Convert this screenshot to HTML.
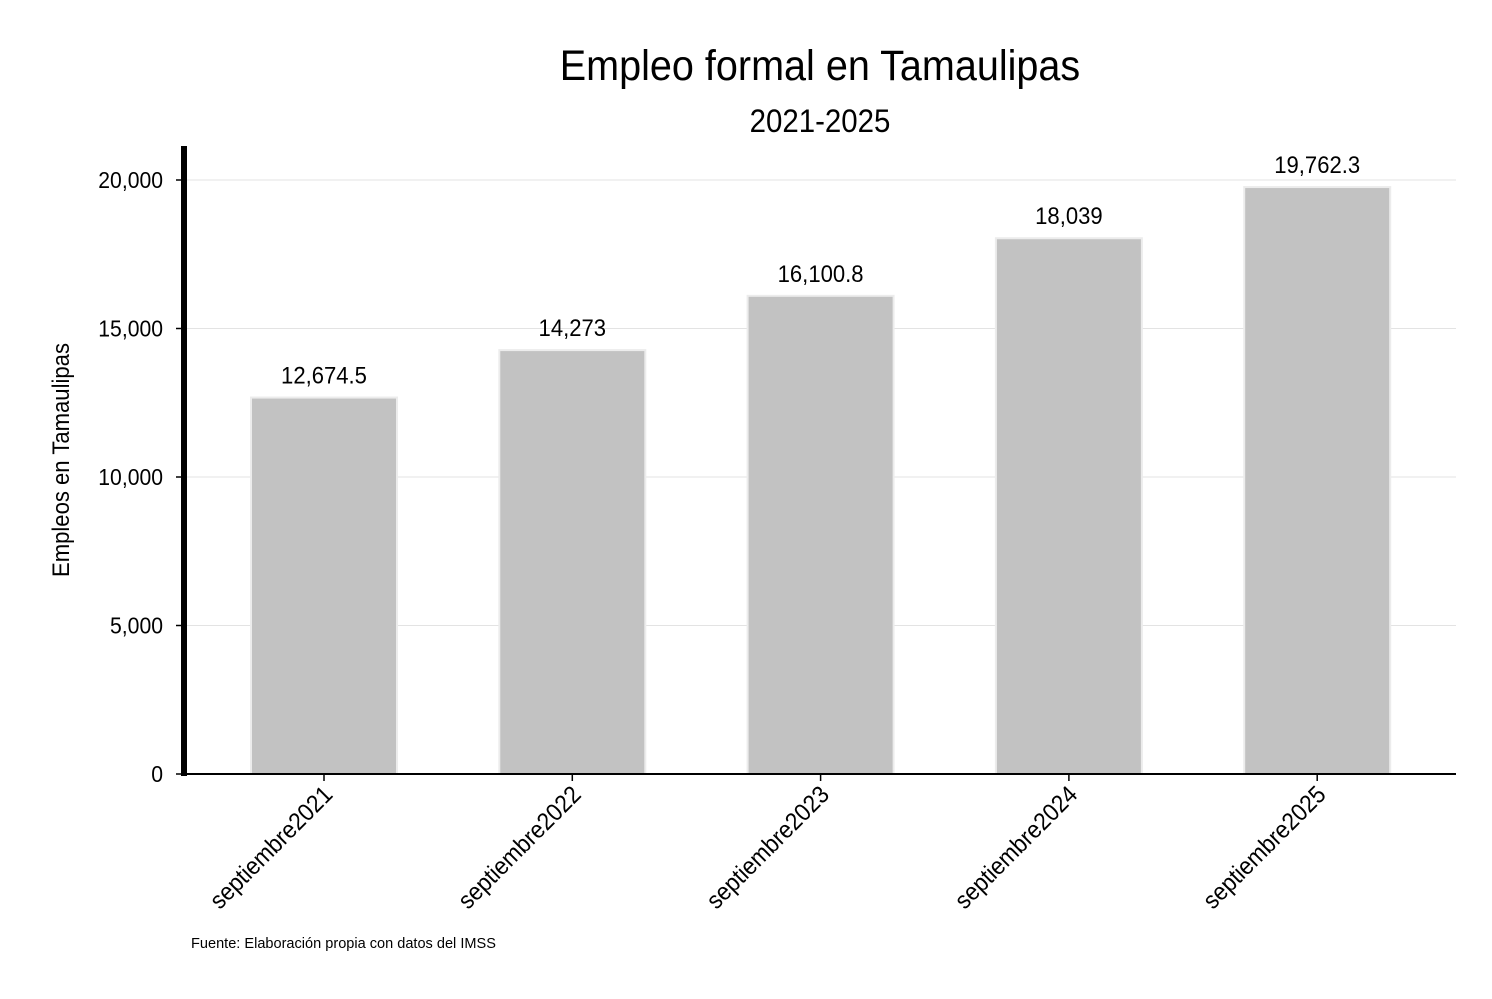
<!DOCTYPE html>
<html><head><meta charset="utf-8"><style>
body{margin:0;background:#fff;}
svg text{font-family:"Liberation Sans Narrow","Liberation Sans",sans-serif;fill:#000;}
</style></head><body>
<svg width="1492" height="994" viewBox="0 0 1492 994">
<text x="820" y="80" font-size="43" text-anchor="middle">Empleo formal en Tamaulipas</text>
<text x="820" y="132" font-size="32" text-anchor="middle">2021-2025</text>
<g id="grid"></g>
<g id="bars"></g>
<line x1="184" y1="146" x2="184" y2="776" stroke="#000" stroke-width="6"/>
<line x1="181" y1="774" x2="1456" y2="774" stroke="#000" stroke-width="2"/>
<g id="yt"></g>
<g id="xt"></g>
<text transform="translate(69,460) rotate(-90)" font-size="24" text-anchor="middle">Empleos en Tamaulipas</text>
<text x="191" y="948" font-size="15" data-scale="0.97">Fuente: Elaboración propia con datos del IMSS</text>
</svg>
<script>
const categories=["septiembre2021","septiembre2022","septiembre2023","septiembre2024","septiembre2025"];
const values=[12674.5,14273,16100.8,18039,19762.3];
const valueLabels=["12,674.5","14,273","16,100.8","18,039","19,762.3"];
const yTicks=[0,5000,10000,15000,20000];
const yTickLabels=["0","5,000","10,000","15,000","20,000"];
const NS="http://www.w3.org/2000/svg";
const y=v=>774-v*(594/20000);
const x=i=>324+i*248.3;
const bw=146;
function mk(t,a,p,txt){const e=document.createElementNS(NS,t);for(const k in a)e.setAttribute(k,a[k]);if(txt!==undefined)e.textContent=txt;document.getElementById(p).appendChild(e);return e;}
yTicks.forEach((t,i)=>{
 if(t>0){const g=mk('line',{x1:187,x2:1456,y1:y(t),y2:y(t),stroke:'#e3e3e3','stroke-width':1},'grid');
 
 }
 const tk=mk('line',{x1:176,x2:182,y1:y(t),y2:y(t),stroke:'#000','stroke-width':1.5},'yt');
 
 
 const l=mk('text',{x:163,y:y(t)+8,'font-size':23,'text-anchor':'end'},'yt',yTickLabels[i]);
 
 
});
categories.forEach((c,i)=>{
 const r=mk('rect',{x:x(i)-bw/2,y:y(values[i]),width:bw,height:774-y(values[i]),fill:'#c2c2c2',stroke:'#ececec','stroke-width':2},'bars');
 
 
 const v=mk('text',{x:x(i),y:y(values[i])-14,'font-size':24,'text-anchor':'middle'},'bars',valueLabels[i]);
 
 
 const tk=mk('line',{x1:x(i),x2:x(i),y1:775,y2:781,stroke:'#000','stroke-width':1.5},'xt');
 
 
 const t=mk('text',{transform:`translate(${x(i)+10},${796}) rotate(-45)`,'font-size':24.5,'text-anchor':'end'},'xt',c);
 
 
});
document.querySelectorAll('svg text').forEach(t=>{
 const s=parseFloat(t.getAttribute('data-scale')||'0.92');
 const w=t.getComputedTextLength();
 t.setAttribute('textLength',(w*s).toFixed(1));
 t.setAttribute('lengthAdjust','spacingAndGlyphs');
});
</script>
</body></html>
